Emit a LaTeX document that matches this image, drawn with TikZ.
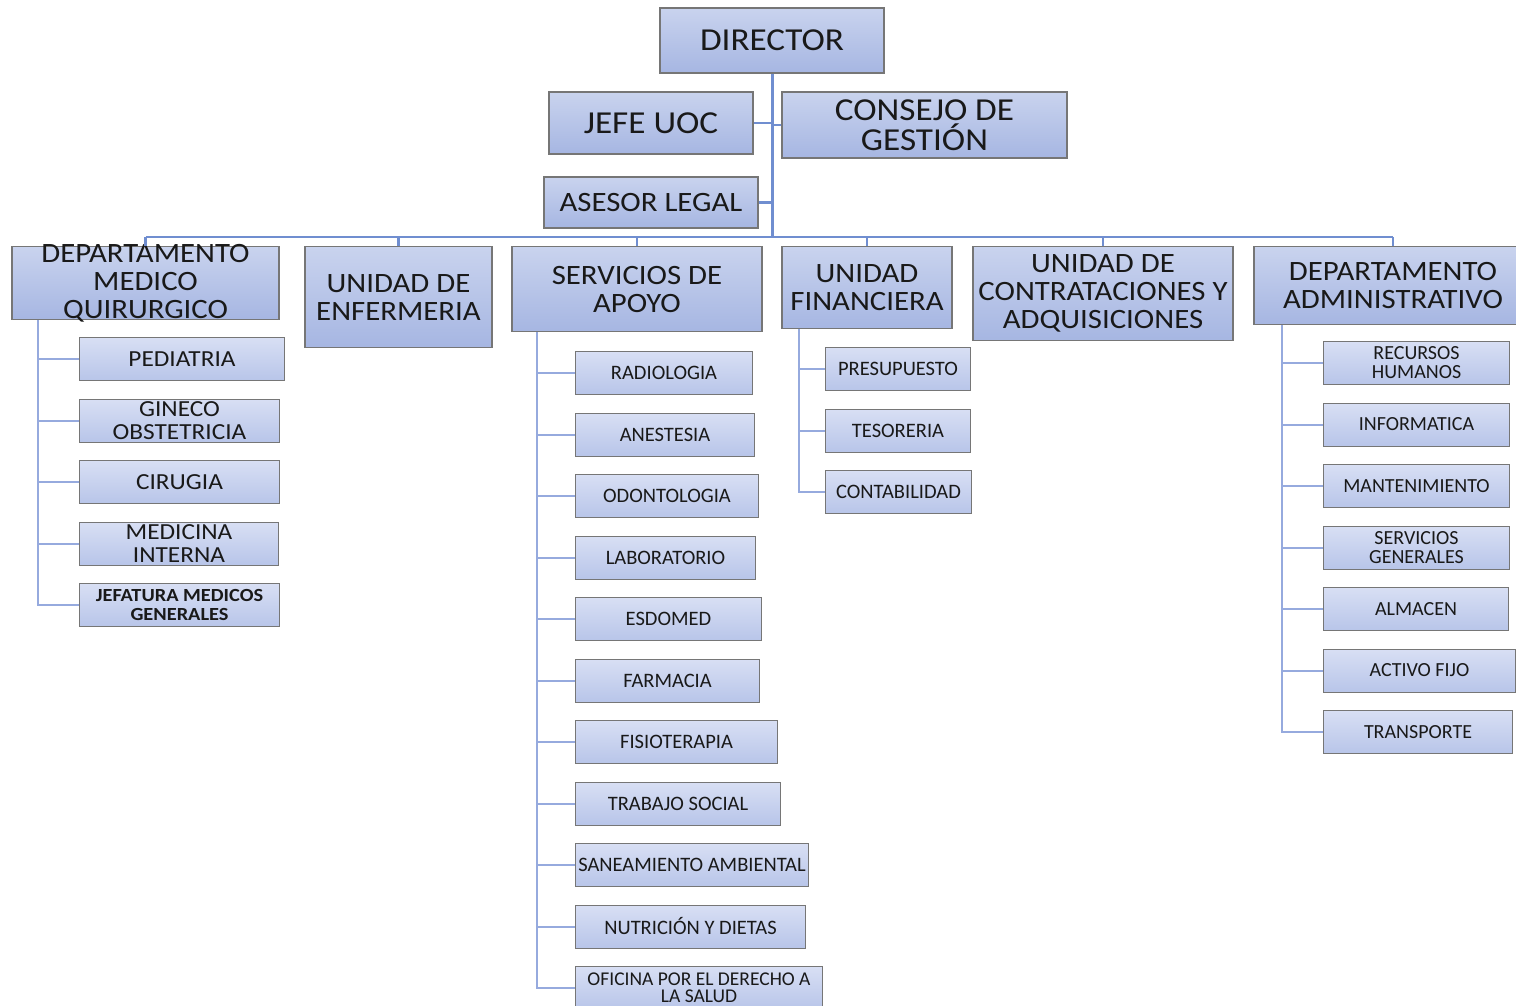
\documentclass[tikz,border=0pt]{standalone}
\usepackage{fontspec}
\setmainfont{Carlito}
\newfontfamily\widefont{Carlito}[FakeStretch=1.1]
\usetikzlibrary{positioning}
\definecolor{boxtop}{RGB}{201,211,238}
\definecolor{boxbot}{RGB}{166,182,226}
\definecolor{subtop}{RGB}{216,223,244}
\definecolor{subbot}{RGB}{184,197,233}
\definecolor{edge}{RGB}{118,118,118}
\definecolor{trunkc}{RGB}{112,142,208}
\definecolor{twigc}{RGB}{150,170,222}
\definecolor{ink}{RGB}{25,25,25}

\begin{document}
\begin{tikzpicture}[x=1pt,y=-1pt,
  box/.style={draw=edge,line width=1.3pt,top color=boxtop,bottom color=boxbot,inner sep=0pt,align=center,text=ink},
  head/.style={box,font=\widefont\fontsize{32}{30}\selectfont},
  unit/.style={box,anchor=north,font=\widefont\fontsize{28}{28}\selectfont},
  sub/.style={draw=edge,line width=1pt,top color=subtop,bottom color=subbot,inner sep=0pt,align=center,text=ink,minimum height=43pt,font=\fontsize{20.5}{19}\selectfont},
  kid/.style={sub,below=17.5pt of #1.south west,anchor=north west},
  big/.style={font=\widefont\fontsize{23}{23}\selectfont},
  small/.style={font=\fontsize{20}{19}\selectfont},
  trunk/.style={draw=trunkc,line width=3pt},
  bus/.style={draw=trunkc,line width=2.2pt},
  twig/.style={draw=twigc,line width=2pt}]
  \useasboundingbox (0,0) rectangle (1516,1005);
  % direccion
  \node[head,minimum width=224pt,minimum height=65pt] (dir) at (772,40.5) {DIRECTOR};
  \node[head,minimum width=204pt,minimum height=62pt] (uoc) at (651,123) {JEFE UOC};
  \node[head,minimum width=285pt,minimum height=66pt] (cons) at (924.5,125) {CONSEJO DE\\GESTIÓN};
  \node[head,minimum width=214pt,minimum height=51pt,font=\widefont\fontsize{28}{28}\selectfont] (ase) at (651,202.5) {ASESOR LEGAL};
  \coordinate (bus) at (772,237);
  % unidades
  \node[unit,minimum width=267pt,minimum height=73pt,label={[align=center,text=ink,font=\widefont\fontsize{28}{28}\selectfont]center:DEPARTAMENTO\\MEDICO\\QUIRURGICO}] (mq) at (145.5,246) {};
  \node[unit,minimum width=187pt,minimum height=101pt] (enf) at (398.5,246) {UNIDAD DE\\ENFERMERIA};
  \node[unit,minimum width=250pt,minimum height=85pt] (sa) at (637,246) {SERVICIOS DE\\APOYO};
  \node[unit,minimum width=170pt,minimum height=82pt] (uf) at (867,246) {UNIDAD\\FINANCIERA};
  \node[unit,minimum width=260pt,minimum height=94pt] (uc) at (1103,246) {UNIDAD DE\\CONTRATACIONES Y\\ADQUISICIONES};
  \node[unit,minimum width=278pt,minimum height=78pt] (da) at (1393,246) {DEPARTAMENTO\\ADMINISTRATIVO};
  % medico quirurgico
  \node[sub,big,anchor=north west,minimum width=205pt] (ped) at (79,337) {PEDIATRIA};
  \node[kid=ped,big,minimum width=200pt] (gin) {GINECO\\OBSTETRICIA};
  \node[kid=gin,big,minimum width=200pt] (cir) {CIRUGIA};
  \node[kid=cir,big,minimum width=199pt] (med) {MEDICINA\\INTERNA};
  \node[kid=med,minimum width=200pt,font=\widefont\bfseries\fontsize{18.5}{19}\selectfont] (jef) {JEFATURA MEDICOS\\GENERALES};
  % servicios de apoyo
  \node[sub,anchor=north west,minimum width=177pt] (rad) at (575,351) {RADIOLOGIA};
  \node[kid=rad,minimum width=179pt] (ane) {ANESTESIA};
  \node[kid=ane,minimum width=183pt] (odo) {ODONTOLOGIA};
  \node[kid=odo,minimum width=180pt] (lab) {LABORATORIO};
  \node[kid=lab,minimum width=186pt] (esd) {ESDOMED};
  \node[kid=esd,minimum width=184pt] (far) {FARMACIA};
  \node[kid=far,minimum width=202pt] (fis) {FISIOTERAPIA};
  \node[kid=fis,minimum width=205pt] (tra) {TRABAJO SOCIAL};
  \node[kid=tra,minimum width=233pt] (san) {SANEAMIENTO AMBIENTAL};
  \node[kid=san,minimum width=230pt] (nut) {NUTRICIÓN Y DIETAS};
  \node[kid=nut,minimum width=247pt,font=\fontsize{19.5}{17}\selectfont] (ofi) {OFICINA POR EL DERECHO A\\LA SALUD};
  % financiera
  \node[sub,anchor=north west,minimum width=145pt] (pre) at (825,347) {PRESUPUESTO};
  \node[kid=pre,minimum width=145pt] (tes) {TESORERIA};
  \node[kid=tes,minimum width=146pt] (con) {CONTABILIDAD};
  % administrativo
  \node[sub,small,anchor=north west,minimum width=186pt] (rrh) at (1323,341) {RECURSOS\\HUMANOS};
  \node[kid=rrh,small,minimum width=186pt] (inf) {INFORMATICA};
  \node[kid=inf,small,minimum width=186pt] (man) {MANTENIMIENTO};
  \node[kid=man,small,minimum width=186pt] (sge) {SERVICIOS\\GENERALES};
  \node[kid=sge,small,minimum width=185pt] (alm) {ALMACEN};
  \node[kid=alm,small,minimum width=192pt] (act) {ACTIVO FIJO};
  \node[kid=act,small,minimum width=189pt] (trn) {TRANSPORTE};
  % lineas
  \draw[trunk] (dir.south) -- (bus);
  \draw[bus] (uoc.east) -- (uoc.east -| bus);
  \draw[bus] (cons.west) -- (cons.west -| bus);
  \draw[bus] (ase.east) -- (ase.east -| bus);
  \draw[bus] (mq.north |- bus) -- (da.north |- bus);
  \foreach \n in {mq,enf,sa,uf,uc,da} \draw[bus] (\n.north) -- (\n.north |- bus);
  \foreach \c in {ped,gin,cir,med,jef} \draw[twig] ([xshift=27pt]mq.south west) |- (\c.west);
  \foreach \c in {rad,ane,odo,lab,esd,far,fis,tra,san,nut,ofi} \draw[twig] ([xshift=26pt]sa.south west) |- (\c.west);
  \foreach \c in {pre,tes,con} \draw[twig] ([xshift=18pt]uf.south west) |- (\c.west);
  \foreach \c in {rrh,inf,man,sge,alm,act,trn} \draw[twig] ([xshift=29pt]da.south west) |- (\c.west);
\end{tikzpicture}
\end{document}
